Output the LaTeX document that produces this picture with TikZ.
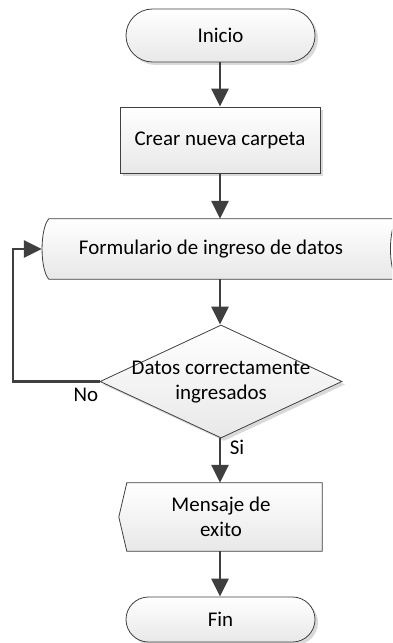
\documentclass[tikz,border=0pt]{standalone}
\usepackage{fontspec}
\setmainfont{Carlito}
\usetikzlibrary{arrows.meta,shapes.geometric,shadows,calc}
\definecolor{edgec}{HTML}{404040}
\definecolor{linkc}{HTML}{3F3F3F}
\definecolor{shadec}{HTML}{D9D9D9}
\tikzset{
  boxfill/.style={top color=white, bottom color=black!9, draw=edgec, line width=0.8bp},
  boxshadow/.style={drop shadow={shadow xshift=3bp, shadow yshift=-3bp, fill=shadec, opacity=1}},
  lbl/.style={font=\fontsize{21}{25}\selectfont, align=center, text=black, inner sep=0pt},
  conn/.style={draw=linkc, line width=2.7bp, -{Triangle[width=17bp,length=18bp]}},
  terminal/.style={boxfill, boxshadow, rectangle, minimum width=189bp, inner sep=0pt},
}
\begin{document}
\begin{tikzpicture}[x=1bp,y=-1bp]
\useasboundingbox (0,0) rectangle (392,643);
\clip (0,0) rectangle (392,643);

% Inicio
\node[terminal, minimum height=53bp, rounded corners=26.5bp] (inicio) at (220.5,35.5) {};
\node[lbl] (iniciot) at (inicio.center) {Inicio};

% Crear nueva carpeta
\node[boxfill, boxshadow, rectangle, minimum width=200bp, minimum height=66bp, inner sep=0pt] (crear) at (220,140) {};
\node[lbl] (creart) at (crear.center) {Crear nueva carpeta};

% Formulario (stored data)
\node[rectangle, minimum width=355bp, minimum height=60bp, inner sep=0pt] (form) at (219.5,249) {};
\fill[shadec, shift={(3,3)}]
  ($(form.north west)+(7,0)$) -- ($(form.north east)$)
  .. controls ($(form.north east)+(-9,10)$) and ($(form.south east)+(-9,-10)$) .. (form.south east)
  -- ($(form.south west)+(7,0)$)
  .. controls ($(form.south west)+(-2,-10)$) and ($(form.north west)+(-2,10)$) .. cycle;
\path[boxfill]
  ($(form.north west)+(7,0)$) -- (form.north east)
  .. controls ($(form.north east)+(-9,10)$) and ($(form.south east)+(-9,-10)$) .. (form.south east)
  -- ($(form.south west)+(7,0)$)
  .. controls ($(form.south west)+(-2,-10)$) and ($(form.north west)+(-2,10)$) .. cycle;
\node[lbl] (formt) at (211,249) {Formulario de ingreso de datos};

% Decision
\node[diamond, boxfill, boxshadow, minimum width=242bp, minimum height=113bp, inner sep=0pt] (dec) at (221,381.5) {};
\node[lbl] (dect) at (221,382) {Datos correctamente\\ingresados};

% Mensaje (display)
\node[rectangle, minimum width=203bp, minimum height=68bp, inner sep=0pt] (msg) at (220.5,517) {};
\fill[shadec, shift={(3,3)}]
  (msg.west) -- ($(msg.north west)+(8,0)$) -- (msg.north east) -- (msg.south east) -- ($(msg.south west)+(8,0)$) -- cycle;
\path[boxfill]
  (msg.west) -- ($(msg.north west)+(8,0)$) -- (msg.north east) -- (msg.south east) -- ($(msg.south west)+(8,0)$) -- cycle;
\node[lbl] (msgt) at (221,517) {Mensaje de\\exito};

% Fin
\node[terminal, minimum height=45bp, rounded corners=22.5bp] (fin) at (220.5,619.5) {};
\node[lbl] (fint) at (fin.center) {Fin};

% Connectors
\draw[conn] (inicio.south -| 220,0) -- (crear.north -| 220,0);
\draw[conn] (crear.south -| 220,0) -- (form.north -| 220,0);
\draw[conn] (form.south -| 220,0) -- (dec.north -| 220,0);
\draw[conn] (dec.south -| 220,0) -- (msg.north -| 220,0);
\draw[conn] (msg.south -| 220,0) -- (fin.north -| 220,0);
\coordinate (loopa) at (13,381.5);
\draw[conn] (dec.west) -- (loopa) |- (form.west);

% Labels
\node[lbl] (nolbl) at (86,395) {No};
\node[lbl] (silbl) at (237,447) {Si};
\end{tikzpicture}
\end{document}
